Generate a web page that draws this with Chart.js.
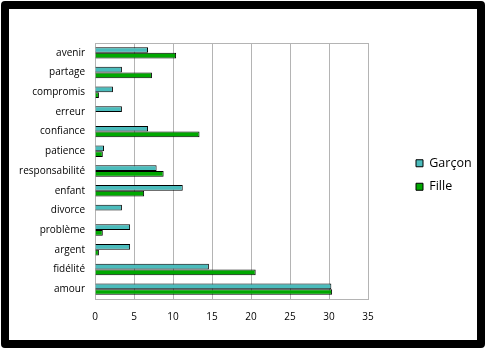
<!DOCTYPE html>
<html>
<head>
<meta charset="utf-8">
<script src="https://cdn.jsdelivr.net/npm/chart.js@4"></script>
<style>
  html, body { margin: 0; padding: 0; background: #fff; }
  #wrap { position: relative; width: 486px; height: 350px; overflow: hidden; }
  #frame {
    position: absolute; left: 1px; top: 1px; width: 484px; height: 347px;
    box-sizing: border-box; border: 8px solid #000; border-radius: 4px;
    pointer-events: none;
  }
  canvas { position: absolute; left: 0; top: 0; }
</style>
</head>
<body>
<div id="wrap">
  <canvas id="chart" width="486" height="350"></canvas>
  <div id="frame"></div>
</div>
<script>
const categories = ['avenir', 'partage', 'compromis', 'erreur', 'confiance', 'patience',
  'responsabilité', 'enfant', 'divorce', 'problème', 'argent', 'fidélité', 'amour'];
const garcon = [6.8, 3.45, 2.3, 3.45, 6.8, 1.15, 7.9, 11.25, 3.45, 4.5, 4.5, 14.6, 30.3];
const fille = [10.4, 7.3, 0.5, 0, 13.4, 1.0, 8.8, 6.3, 0, 1.0, 0.5, 20.6, 30.4];
const xTicks = [0, 5, 10, 15, 20, 25, 30, 35];

const gridGray = '#b4b4b4';
const fontFamily = "'Open Sans', 'DejaVu Sans', sans-serif";

// legend sits at a fixed spot right of the plot
const legendSpot = {
  id: 'legendSpot',
  beforeInit(chart) {
    const lg = chart.legend;
    const fit = lg.fit;
    lg.fit = function () {
      fit.call(this);
      this.width = 118;
    };
  },
  afterLayout(chart) {
    const lg = chart.legend;
    const dx = 405 - lg.left;
    const dy = 146 - lg.top;
    lg.left += dx; lg.right += dx;
    lg.top += dy; lg.bottom += dy;
  }
};

new Chart(document.getElementById('chart'), {
  type: 'bar',
  data: {
    labels: categories,
    datasets: [
      {
        label: 'Garçon',
        data: garcon,
        backgroundColor: '#4bbcbc',
        borderColor: '#000',
        borderWidth: 1
      },
      {
        label: 'Fille',
        data: fille,
        backgroundColor: '#00a800',
        borderColor: '#000',
        borderWidth: 1
      }
    ]
  },
  options: {
    indexAxis: 'y',
    responsive: false,
    animation: false,
    devicePixelRatio: 1,
    categoryPercentage: 0.58,
    barPercentage: 1,
    layout: { padding: { top: 43, left: 0, right: 0, bottom: 0 } },
    scales: {
      x: {
        min: 0,
        max: 35,
        afterBuildTicks: scale => { scale.ticks = xTicks.map(v => ({ value: v })); },
        afterFit: scale => { scale.height = 51; },
        grid: { color: gridGray, lineWidth: 1, drawTicks: false },
        border: { color: gridGray },
        ticks: { color: '#000', padding: 12, font: { family: fontFamily, size: 10 } }
      },
      y: {
        afterFit: scale => { scale.width = 95; },
        grid: {
          drawTicks: false,
          color: ctx => ctx.index === 0 ? gridGray : 'transparent'
        },
        border: { color: gridGray },
        ticks: { color: '#000', padding: 10, font: { family: fontFamily, size: 10 } }
      }
    },
    plugins: {
      tooltip: { enabled: false },
      legend: {
        position: 'right',
        align: 'start',
        labels: {
          boxWidth: 7,
          boxHeight: 7,
          padding: 11,
          color: '#000',
          font: { family: fontFamily, size: 12.5 }
        }
      }
    }
  },
  plugins: [legendSpot]
});
</script>
</body>
</html>
